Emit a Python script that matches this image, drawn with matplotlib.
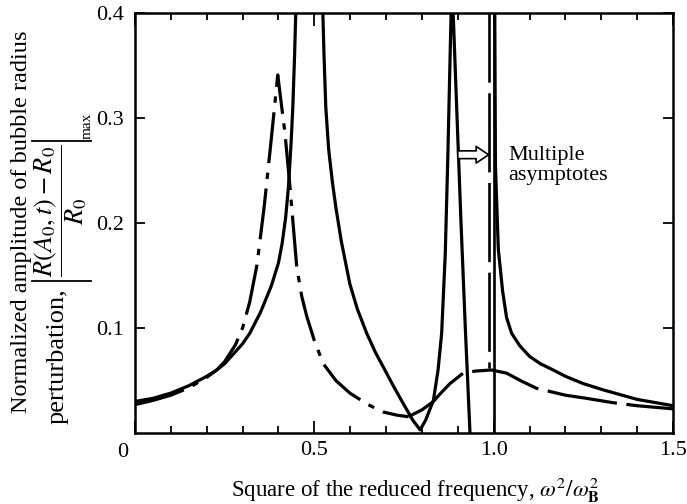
import numpy as np
import matplotlib
matplotlib.use('Agg')
import matplotlib.pyplot as plt
from matplotlib.ticker import MultipleLocator
from matplotlib.transforms import IdentityTransform
from matplotlib.lines import Line2D

plt.rcParams['font.family'] = 'Liberation Serif'
plt.rcParams['mathtext.fontset'] = 'stix'

# dash-dot curve with the peak near 0.4
a_x = [0.0, 0.05, 0.1, 0.15, 0.2, 0.228, 0.25, 0.28, 0.30, 0.32, 0.34, 0.36, 0.38, 0.398,
       0.418, 0.432, 0.451, 0.465, 0.479, 0.50, 0.525, 0.56, 0.599, 0.65, 0.692, 0.73, 0.762]
a_y = [0.027, 0.031, 0.036, 0.043, 0.053, 0.060, 0.068, 0.084, 0.10, 0.125, 0.16, 0.215, 0.28, 0.341,
       0.286, 0.235, 0.158, 0.13, 0.111, 0.088, 0.066, 0.050, 0.038, 0.027, 0.020, 0.017, 0.0155]

# solid curve, asymptote near 0.5
b1_x = [0.0, 0.05, 0.1, 0.15, 0.2, 0.228, 0.25, 0.3, 0.32, 0.35, 0.38, 0.40, 0.41, 0.42,
        0.428, 0.435, 0.44, 0.445, 0.449]
b1_y = [0.030, 0.033, 0.038, 0.045, 0.054, 0.060, 0.066, 0.085, 0.095, 0.115, 0.14, 0.162, 0.18, 0.205,
        0.235, 0.275, 0.31, 0.36, 0.41]

# solid curve between 0.5 and 0.93 (V near 0.8, peak near 0.88)
b2_x = [0.523, 0.527, 0.532, 0.54, 0.55, 0.56, 0.575, 0.599, 0.62, 0.646, 0.67, 0.692, 0.72, 0.748,
        0.775, 0.795, 0.81, 0.832, 0.845, 0.855, 0.865, 0.872, 0.878, 0.882,
        0.886, 0.898, 0.909, 0.921, 0.934]
b2_y = [0.41, 0.36, 0.31, 0.27, 0.24, 0.215, 0.183, 0.142, 0.118, 0.095, 0.077, 0.063, 0.045, 0.028,
        0.012, 0.003, 0.012, 0.031, 0.06, 0.095, 0.17, 0.26, 0.35, 0.41,
        0.41, 0.30, 0.20, 0.10, 0.0]

# solid asymptote at 1.0 and its right branch
d_x = [1.003, 1.005, 1.013, 1.025, 1.036, 1.05, 1.073, 1.1, 1.13, 1.166, 1.2, 1.25, 1.306, 1.4, 1.5]
d_y = [0.41, 0.254, 0.175, 0.135, 0.11, 0.095, 0.083, 0.073, 0.066, 0.060, 0.054, 0.047, 0.041, 0.032, 0.026]

# dashed plateau curve
e_x = [0.762, 0.8, 0.832, 0.85, 0.878, 0.915, 0.95, 0.994, 1.036, 1.08, 1.12, 1.2, 1.259,
       1.33, 1.399, 1.5]
e_y = [0.0155, 0.022, 0.030, 0.037, 0.047, 0.057, 0.059, 0.060, 0.057, 0.049, 0.0425, 0.036, 0.033,
       0.029, 0.026, 0.023]

fig = plt.figure(figsize=(6.87, 5.04), dpi=100)
ax = fig.add_axes([0.1965, 0.1409, 0.7831, 0.8333])

lw = 2.3
ax.plot(a_x, a_y, color='black', lw=lw, dashes=(16, 3, 2, 3))
ax.plot(b1_x, b1_y, color='black', lw=lw)
ax.plot(b2_x, b2_y, color='black', lw=lw)
ax.plot([1.0, 1.0], [0.0, 0.41], color='black', lw=1.9)
ax.plot(d_x, d_y, color='black', lw=lw)
ax.plot([0.988, 0.988], [0.41, 0.062], color='black', lw=1.9, dashes=(30, 4))
ax.plot(e_x, e_y, color='black', lw=lw, dashes=(22, 3))

ax.set_xlim(0, 1.5)
ax.set_ylim(0, 0.4)

ax.xaxis.set_minor_locator(MultipleLocator(0.1))
ax.set_xticks([0, 0.5, 1.0, 1.5])
ax.set_xticklabels(['', '0.5', '1.0', '1.5'])
ax.set_yticks([0.1, 0.2, 0.3, 0.4])
ax.set_yticklabels(['0.1', '0.2', '0.3', '0.4'])
ax.tick_params(which='both', direction='in', top=True, right=True, width=1.3, labelsize=16)
ax.tick_params(axis='x', which='major', length=9, pad=6)
ax.tick_params(axis='x', which='minor', length=5)
ax.tick_params(axis='y', which='major', length=7, pad=8)
for s in ax.spines.values():
    s.set_linewidth(1.8)

ax.annotate('0', xy=(0, 0), xytext=(-9, -14), textcoords='offset points',
            ha='center', va='center', fontsize=16, annotation_clip=False)

ax.annotate('', xy=(0.986, 0.265), xytext=(0.9, 0.265),
            arrowprops=dict(arrowstyle='simple,head_length=0.45,head_width=0.6,tail_width=0.28',
                            mutation_scale=20, fc='white', ec='black', lw=1.2,
                            shrinkA=0, shrinkB=0))
ax.text(1.04, 0.255, 'Multiple\nasymptotes', ha='left', va='center', fontsize=16, linespacing=1.05)

fig.text(415 / 687, 1 - 490 / 504, r'Square of the reduced frequency, $\omega^2/\omega_\mathbf{B}^2$',
         ha='center', va='center', fontsize=16.5)
fig.text(22 / 687, 1 - 222 / 504, 'Normalized amplitude of bubble radius',
         rotation=90, ha='center', va='center', fontsize=17.5)

# second line of the y label: text, then |fraction| with thin bars, then "max"
H = 504
px = IdentityTransform()
fig.canvas.draw()
r = fig.canvas.get_renderer()
tp = fig.text(58, H - 424, 'perturbation,', rotation=90, ha='center', va='bottom',
              fontsize=19, transform=px)
bb = tp.get_window_extent(r)
fr = fig.text(61, bb.y1 + 11, r'$\dfrac{R(A_0,t)-R_0}{R_0}$', rotation=90,
              ha='center', va='bottom', fontsize=19, transform=px)
bf = fr.get_window_extent(r)
for yb in (bf.y0 - 4, bf.y1 + 4):
    fig.add_artist(Line2D([bf.x0 - 1, bf.x1 + 2], [yb, yb], color='black', lw=1.3, transform=px))
fig.text(bf.x1 - 2, bf.y1 + 6, 'max', rotation=90, ha='center', va='bottom',
         fontsize=11, transform=px)

fig.savefig('out.png', dpi=100)
